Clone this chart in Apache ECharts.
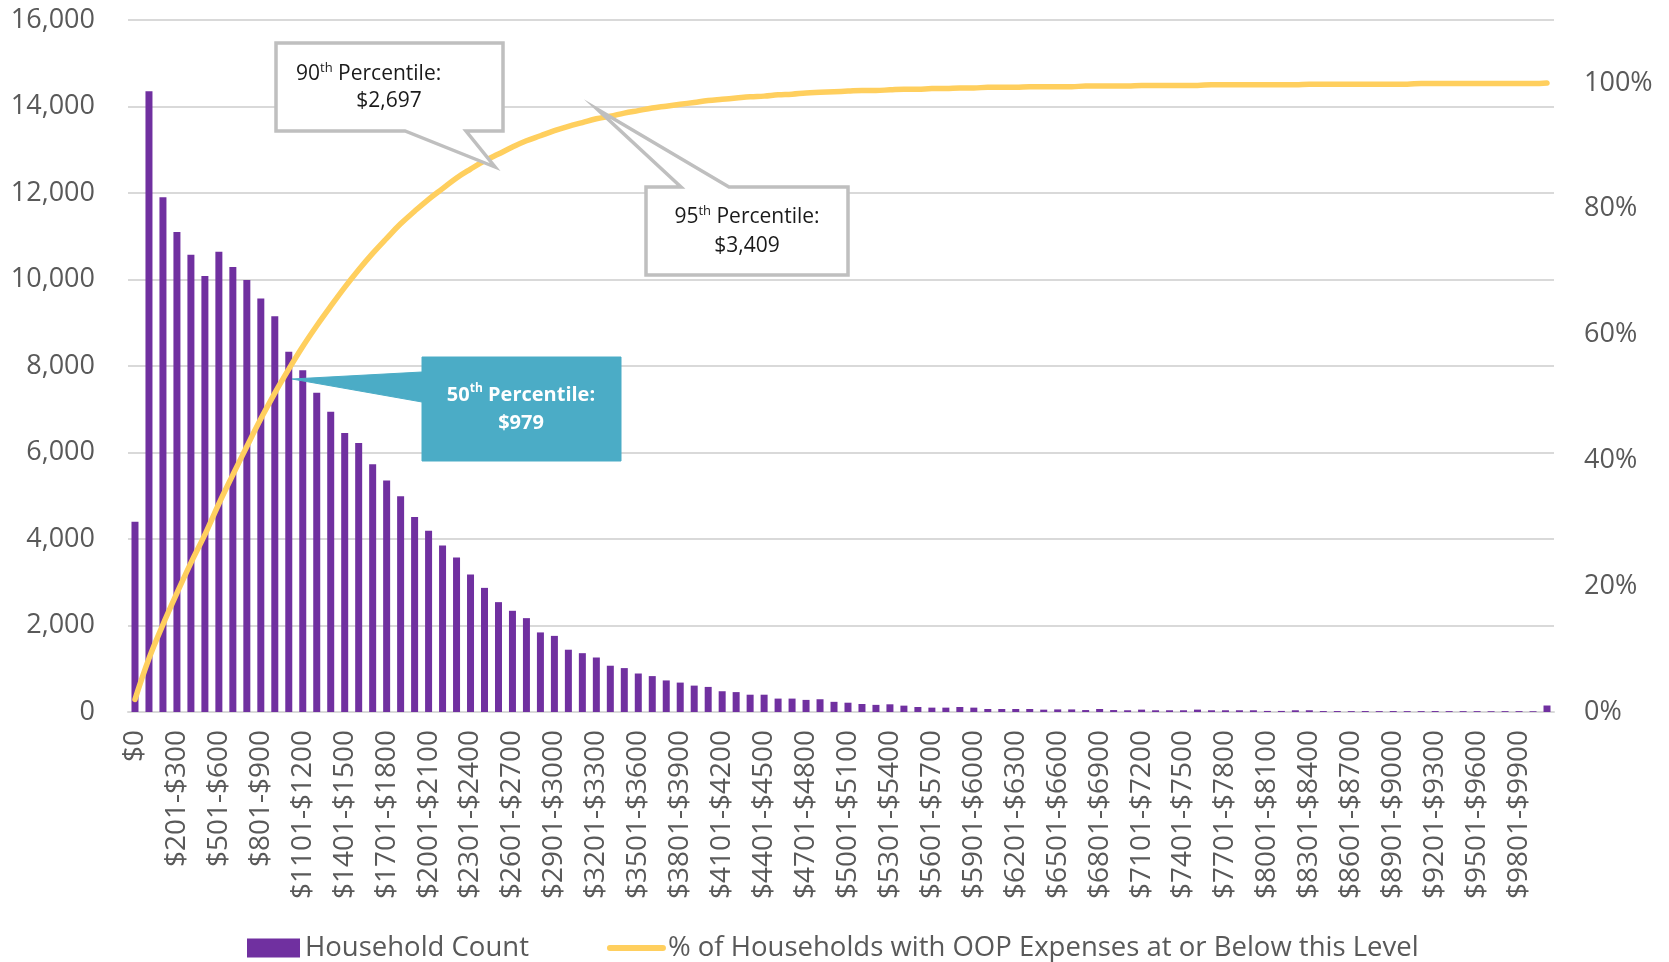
<!DOCTYPE html>
<html>
<head>
<meta charset="utf-8">
<script src="https://cdn.jsdelivr.net/npm/echarts@6/dist/echarts.min.js"></script>
<style>
  html, body { margin: 0; padding: 0; background: #ffffff; }
  #chart { width: 1669px; height: 962px; }
</style>
</head>
<body>
<div id="chart"></div>
<script>
// Out-of-pocket expense brackets
const categories = [
  '$0', '$1-$100', '$101-$200', '$201-$300', '$301-$400', '$401-$500', '$501-$600', '$601-$700', '$701-$800', '$801-$900',
  '$901-$1000', '$1001-$1100', '$1101-$1200', '$1201-$1300', '$1301-$1400', '$1401-$1500', '$1501-$1600', '$1601-$1700', '$1701-$1800', '$1801-$1900',
  '$1901-$2000', '$2001-$2100', '$2101-$2200', '$2201-$2300', '$2301-$2400', '$2401-$2500', '$2501-$2600', '$2601-$2700', '$2701-$2800', '$2801-$2900',
  '$2901-$3000', '$3001-$3100', '$3101-$3200', '$3201-$3300', '$3301-$3400', '$3401-$3500', '$3501-$3600', '$3601-$3700', '$3701-$3800', '$3801-$3900',
  '$3901-$4000', '$4001-$4100', '$4101-$4200', '$4201-$4300', '$4301-$4400', '$4401-$4500', '$4501-$4600', '$4601-$4700', '$4701-$4800', '$4801-$4900',
  '$4901-$5000', '$5001-$5100', '$5101-$5200', '$5201-$5300', '$5301-$5400', '$5401-$5500', '$5501-$5600', '$5601-$5700', '$5701-$5800', '$5801-$5900',
  '$5901-$6000', '$6001-$6100', '$6101-$6200', '$6201-$6300', '$6301-$6400', '$6401-$6500', '$6501-$6600', '$6601-$6700', '$6701-$6800', '$6801-$6900',
  '$6901-$7000', '$7001-$7100', '$7101-$7200', '$7201-$7300', '$7301-$7400', '$7401-$7500', '$7501-$7600', '$7601-$7700', '$7701-$7800', '$7801-$7900',
  '$7901-$8000', '$8001-$8100', '$8101-$8200', '$8201-$8300', '$8301-$8400', '$8401-$8500', '$8501-$8600', '$8601-$8700', '$8701-$8800', '$8801-$8900',
  '$8901-$9000', '$9001-$9100', '$9101-$9200', '$9201-$9300', '$9301-$9400', '$9401-$9500', '$9501-$9600', '$9601-$9700', '$9701-$9800', '$9801-$9900',
  '$9901-$10000', '>$10000'
];

// Number of households in each bracket
const householdCount = [
  4400, 14350, 11900, 11100, 10570, 10080, 10640, 10290, 9990, 9560,
  9150, 8330, 7900, 7380, 6940, 6450, 6220, 5730, 5350, 4990,
  4510, 4190, 3850, 3570, 3180, 2870, 2540, 2340, 2170, 1840,
  1760, 1440, 1360, 1260, 1070, 1015, 890, 830, 730, 680,
  610, 580, 480, 460, 400, 400, 310, 310, 280, 295,
  235, 215, 185, 165, 178, 147, 116, 101, 101, 116,
  101, 70, 70, 70, 70, 54, 60, 60, 45, 70,
  45, 40, 55, 40, 40, 40, 55, 40, 40, 40,
  40, 25, 25, 40, 40, 22, 22, 20, 22, 20,
  22, 20, 20, 22, 20, 20, 20, 18, 20, 20,
  18, 150
];

// Share of households at or below each bracket (percent)
const cumulativePct = [
  2.0, 8.5, 13.9, 18.9, 23.7, 28.2, 33.1, 37.7, 42.2, 46.6,
  50.7, 54.5, 58.1, 61.4, 64.5, 67.5, 70.3, 72.9, 75.3, 77.6,
  79.6, 81.5, 83.2, 84.9, 86.3, 87.6, 88.7, 89.8, 90.8, 91.6,
  92.4, 93.1, 93.7, 94.3, 94.7, 95.2, 95.6, 96.0, 96.3, 96.6,
  96.9, 97.2, 97.4, 97.6, 97.8, 97.9, 98.1, 98.2, 98.4, 98.5,
  98.6, 98.7, 98.8, 98.8, 98.9, 99.0, 99.0, 99.1, 99.1, 99.2,
  99.2, 99.3, 99.3, 99.3, 99.4, 99.4, 99.4, 99.4, 99.5, 99.5,
  99.5, 99.5, 99.6, 99.6, 99.6, 99.6, 99.6, 99.7, 99.7, 99.7,
  99.7, 99.7, 99.7, 99.7, 99.8, 99.8, 99.8, 99.8, 99.8, 99.8,
  99.8, 99.8, 99.9, 99.9, 99.9, 99.9, 99.9, 99.9, 99.9, 99.9,
  99.9, 100.0
];

const countTicks = { min: 0, max: 16000, interval: 2000 };
const pctTicks = { min: 0, max: 110, interval: 20 };

const FONT = 'Open Sans';
const GREY_TEXT = '#595959';
const GRID_GREY = '#D9D9D9';
const PURPLE = '#7030A0';
const GOLD = '#FFCF5E';
const TEAL = '#4BACC6';
const CALLOUT_BORDER = '#BFBFBF';

const chart = echarts.init(document.getElementById('chart'), null, { renderer: 'canvas' });

// Callout rich-text styles (ordinal suffix raised)
function calloutRich(color, weight, size) {
  return {
    n: { fontFamily: FONT, fontSize: size, fontWeight: weight, color: color, lineHeight: 26 },
    s: { fontFamily: FONT, fontSize: Math.round(size * 0.62), fontWeight: weight, color: color, lineHeight: 26, verticalAlign: 'top', padding: [1, 0, 0, 0] }
  };
}

function calloutText(x, y, text, align, color, weight, size) {
  return {
    type: 'text', x: x, y: y, z: 110,
    style: {
      text: text, align: align, verticalAlign: 'middle',
      textAlign: align, textVerticalAlign: 'middle',
      fill: color, rich: calloutRich(color, weight, size),
      font: weight + ' ' + size + 'px "' + FONT + '"'
    }
  };
}

const option = {
  backgroundColor: '#ffffff',
  animation: false,
  textStyle: { fontFamily: FONT },
  grid: { left: 128, right: 115, top: 20, bottom: 250, containLabel: false },
  legend: {
    left: 242, top: 929,
    itemWidth: 53, itemHeight: 19, itemGap: 78,
    textStyle: { fontFamily: FONT, fontSize: 27.5, color: GREY_TEXT },
    data: [
      { name: 'Household Count', icon: 'rect' },
      {
        name: '% of Households with OOP Expenses at or Below this Level',
        itemStyle: { opacity: 0 },
        lineStyle: { color: GOLD, width: 6, cap: 'round' }
      }
    ]
  },
  xAxis: {
    type: 'category',
    data: categories,
    boundaryGap: true,
    axisLine: { show: true, lineStyle: { color: GRID_GREY, width: 2 } },
    axisTick: { show: false },
    axisLabel: {
      interval: 2, rotate: 90, margin: 18,
      fontFamily: FONT, fontSize: 28, color: GREY_TEXT
    }
  },
  yAxis: [
    {
      type: 'value', position: 'left',
      min: countTicks.min, max: countTicks.max, interval: countTicks.interval,
      axisLine: { show: false }, axisTick: { show: false },
      splitLine: { show: true, lineStyle: { color: GRID_GREY, width: 2 } },
      axisLabel: {
        margin: 33, fontFamily: FONT, fontSize: 27, color: GREY_TEXT,
        formatter: v => v.toLocaleString('en-US')
      }
    },
    {
      type: 'value', position: 'right',
      min: pctTicks.min, max: pctTicks.max, interval: pctTicks.interval,
      axisLine: { show: false }, axisTick: { show: false },
      splitLine: { show: false },
      axisLabel: {
        margin: 30, fontFamily: FONT, fontSize: 27, color: GREY_TEXT,
        formatter: v => (v <= 100 ? Math.round(v) + '%' : '')
      }
    }
  ],
  series: [
    {
      name: 'Household Count',
      type: 'bar',
      yAxisIndex: 0,
      data: householdCount,
      barWidth: 7,
      itemStyle: { color: PURPLE },
      z: 2
    },
    {
      name: '% of Households with OOP Expenses at or Below this Level',
      type: 'line',
      yAxisIndex: 1,
      data: cumulativePct,
      smooth: 0.4,
      symbol: 'none',
      lineStyle: { color: GOLD, width: 5.5, cap: 'round' },
      itemStyle: { color: GOLD },
      z: 5
    }
  ],
  graphic: [
    // 90th percentile callout
    {
      type: 'polygon', z: 100,
      shape: { points: [[276, 43], [503, 43], [503, 131], [466, 131], [495, 167], [405, 131], [276, 131]] },
      style: { fill: '#ffffff', stroke: CALLOUT_BORDER, lineWidth: 3.5, lineJoin: 'miter' }
    },
    calloutText(296, 74, '{n|90}{s|th}{n| Percentile:}', 'left', '#1a1a1a', 'normal', 21),
    calloutText(389, 101, '{n|$2,697}', 'center', '#1a1a1a', 'normal', 21),

    // 95th percentile callout
    {
      type: 'polygon', z: 100,
      shape: { points: [[646, 187], [681, 187], [597, 109], [729, 187], [848, 187], [848, 275], [646, 275]] },
      style: { fill: '#ffffff', stroke: CALLOUT_BORDER, lineWidth: 3.5, lineJoin: 'miter' }
    },
    calloutText(747, 217, '{n|95}{s|th}{n| Percentile:}', 'center', '#1a1a1a', 'normal', 21),
    calloutText(747, 246, '{n|$3,409}', 'center', '#1a1a1a', 'normal', 21),

    // 50th percentile callout
    {
      type: 'polygon', z: 100,
      shape: { points: [[422, 357], [621, 357], [621, 461], [422, 461], [422, 402], [292, 379], [422, 372]] },
      style: { fill: TEAL, stroke: TEAL, lineWidth: 1 }
    },
    calloutText(521, 395, '{n|50}{s|th}{n| Percentile:}', 'center', '#ffffff', 'bold', 20),
    calloutText(521, 423, '{n|$979}', 'center', '#ffffff', 'bold', 20)
  ]
};

chart.setOption(option);
</script>
</body>
</html>
